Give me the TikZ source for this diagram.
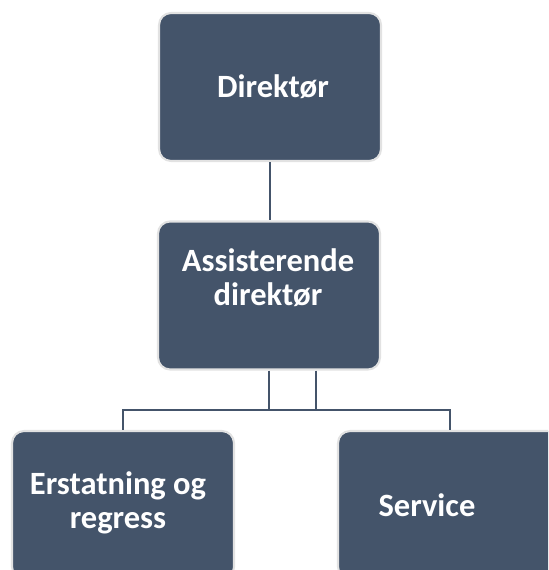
\documentclass[tikz,border=0pt]{standalone}
\usepackage{fontspec}
\setmainfont{Carlito}
\definecolor{boxblue}{HTML}{44546A}
\definecolor{boxrim}{HTML}{E2E2E2}
\tikzset{
  unit/.style={draw=boxrim, line width=1.2pt, fill=boxblue, rounded corners=0.24cm,
    minimum width=4.44cm, minimum height=2.96cm, inner sep=0pt},
  unittext/.style={text=white, font=\bfseries\fontsize{18.5}{19.5}\selectfont, align=center},
  link/.style={draw=boxblue, line width=1.4pt}
}
\begin{document}
\begin{tikzpicture}[x=0.02cm, y=-0.02cm]
    \clip (0,0) rectangle (548,570);
    \node [unit] (dir) at (270, 87) {};
    \node [unit] (ass) at (269, 295.5) {};
    \node [unit] (erst) at (123, 505) {};
    \node [unit, minimum width=4.48cm] (serv) at (450, 505) {};
    \node [unittext] (dirtext) at (273, 87) {Direktør};
    \node [unittext] (asstext) at (268, 278) {Assisterende\\direktør};
    \node [unittext] (ersttext) at (118, 503) {Erstatning og\\regress};
    \node [unittext] (servtext) at (427, 505) {Service};
    \coordinate (busL) at (269, 410);
    \coordinate (busR) at (316, 410);
    \draw [link] (dir.south) to (dir.south |- ass.north);
    \draw [link] (ass.south) to (busL);
    \draw [link] (ass.south -| busR) to (busR);
    \draw [link] (busL) to (busR);
    \draw [link] (erst.north) |- (busL);
    \draw [link] (serv.north) |- (busR);
\end{tikzpicture}
\end{document}
